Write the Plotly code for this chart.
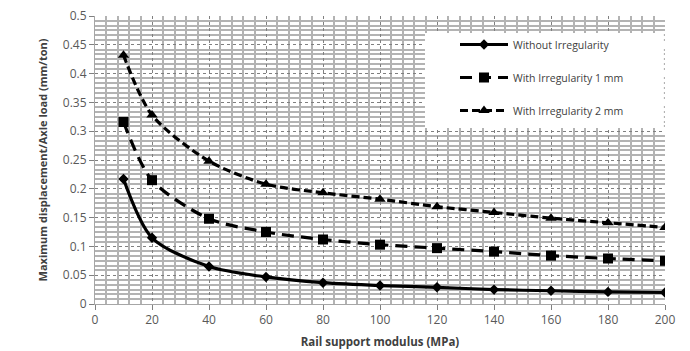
import plotly.graph_objects as go

modulus = [10, 20, 40, 60, 80, 100, 120, 140, 160, 180, 200]
without_irr = [0.217, 0.115, 0.065, 0.047, 0.037, 0.032, 0.029, 0.025, 0.023, 0.021, 0.020]
irr_1mm = [0.316, 0.215, 0.148, 0.125, 0.112, 0.103, 0.097, 0.091, 0.084, 0.079, 0.075]
irr_2mm = [0.432, 0.328, 0.248, 0.208, 0.193, 0.182, 0.169, 0.159, 0.149, 0.141, 0.133]
names = ["Without Irregularity", "With Irregularity 1 mm", "With Irregularity 2 mm"]

FONT = "Open Sans"
fig = go.Figure()
styles = [
    dict(dash="solid", symbol="diamond", size=8),
    dict(dash="12px,7px", symbol="square", size=10),
    dict(dash="8px,4px", symbol="triangle-up", size=10),
]
for i, (ys, st) in enumerate(zip([without_irr, irr_1mm, irr_2mm], styles)):
    fig.add_trace(go.Scatter(
        x=modulus, y=ys, name=names[i], mode="lines+markers",
        line=dict(color="black", width=3.2, dash=st["dash"], shape="spline", smoothing=0.8),
        marker=dict(color="black", symbol=st["symbol"], size=st["size"]),
        legendgroup=str(i),
    ))

# white backdrop of the legend box
fig.add_shape(type="rect", xref="paper", yref="paper",
              x0=(425 - 95) / 570, x1=0.998, y0=(304 - 128) / 288, y1=(304 - 33) / 288,
              fillcolor="white", line=dict(width=0), layer="above")

fig.update_layout(
    width=690, height=351,
    margin=dict(l=95, r=25, t=16, b=47),
    paper_bgcolor="white", plot_bgcolor="white",
    font=dict(family=FONT, color="#595959"),
    showlegend=True,
    legend=dict(
        x=(455 - 95) / 570, y=(304 - 30) / 288, xanchor="left", yanchor="top",
        bgcolor="rgba(0,0,0,0)", borderwidth=0,
        font=dict(size=10.5, color="#404040", family=FONT),
        itemwidth=48, tracegroupgap=14,
    ),
    xaxis=dict(
        range=[0, 200], dtick=20, tick0=0, automargin=False,
        showline=True, linecolor="#a6a6a6", linewidth=1,
        ticks="outside", tickcolor="#808080", ticklen=5,
        showgrid=True, gridcolor="#808080", griddash="dot", gridwidth=1,
        minor=dict(dtick=4, showgrid=True, gridcolor="#b3b3b3", gridwidth=2, griddash="solid"),
        tickfont=dict(size=12, color="#595959"),
        title=dict(text="<b>Rail support modulus (MPa)</b>", font=dict(size=11.5, color="#404040"), standoff=10),
        zeroline=False,
    ),
    yaxis=dict(
        range=[0, 0.5], dtick=0.05, tick0=0, automargin=False,
        showline=True, linecolor="#a6a6a6", linewidth=1,
        ticks="outside", tickcolor="#808080", ticklen=5,
        showgrid=True, gridcolor="#808080", griddash="dot", gridwidth=1,
        minor=dict(dtick=0.05 / 6, showgrid=True, gridcolor="#b3b3b3", gridwidth=2, griddash="solid"),
        tickfont=dict(size=12, color="#595959"),
        title=dict(text="<b>Maximum displacement/Axle load (mm/ton)</b>", font=dict(size=11, color="#404040"), standoff=12),
        zeroline=False,
    ),
)
fig.write_html("out.html")
